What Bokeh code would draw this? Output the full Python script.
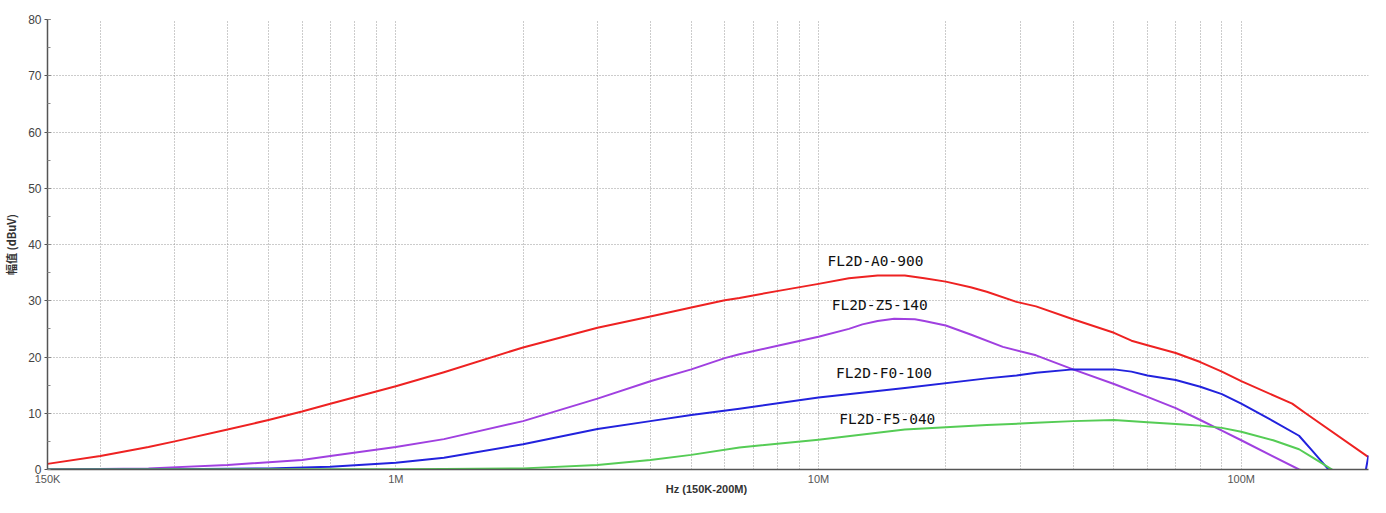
import json
from bokeh.plotting import figure
from bokeh.models import FixedTicker, SingleIntervalTicker, CustomJSTickFormatter, Range1d, ColumnDataSource
from bokeh.core.properties import value
from bokeh.embed import file_html
from bokeh.resources import INLINE

# ---- data ----
red_f = [150e3, 200e3, 260e3, 300e3, 400e3, 500e3, 600e3, 700e3, 1e6, 1.3e6, 2e6, 3e6, 4e6, 5e6, 6e6, 6.5e6,
         8.1e6, 10e6, 11.8e6, 13.8e6, 16e6, 17.8e6, 20e6, 22.9e6, 25e6, 29.4e6, 32.7e6, 40e6, 50e6, 55e6,
         60e6, 70e6, 80e6, 90e6, 100e6, 132e6, 142e6, 200e6]
red_v = [1.0, 2.4, 4.0, 5.0, 7.1, 8.8, 10.3, 11.7, 14.8, 17.3, 21.7, 25.2, 27.2, 28.8, 30.1, 30.5,
         31.8, 33.0, 34.0, 34.5, 34.5, 34.0, 33.4, 32.4, 31.6, 29.8, 29.0, 26.7, 24.3, 22.9,
         22.1, 20.7, 19.1, 17.4, 15.7, 11.7, 10.0, 2.2]

purple_f = [150e3, 260e3, 400e3, 600e3, 700e3, 1e6, 1.3e6, 2e6, 3e6, 4e6, 5e6, 6e6, 6.5e6, 8.1e6, 10e6,
            11.8e6, 12.7e6, 13.8e6, 15.1e6, 16.9e6, 17.8e6, 20e6, 22.9e6, 27.3e6, 32.7e6, 40e6, 50e6,
            60e6, 70e6, 80e6, 90e6, 100e6, 137e6, 150e6]
purple_v = [0.0, 0.2, 0.8, 1.7, 2.4, 4.0, 5.4, 8.6, 12.6, 15.7, 17.8, 19.8, 20.5, 22.1, 23.6,
            25.0, 25.8, 26.4, 26.8, 26.7, 26.4, 25.6, 24.0, 21.8, 20.3, 17.8, 15.2,
            12.9, 10.9, 8.8, 6.9, 5.2, 0.0, -1.0]

blue_f = [150e3, 300e3, 500e3, 700e3, 1e6, 1.3e6, 2e6, 3e6, 4e6, 5e6, 6.5e6, 10e6, 16e6, 25e6, 29.4e6,
          32.7e6, 40e6, 50e6, 55e6, 60e6, 70e6, 80e6, 90e6, 100e6, 119e6, 137e6, 147e6, 160e6, 170e6,
          195e6, 200e6]
blue_v = [0.0, 0.05, 0.2, 0.5, 1.2, 2.1, 4.5, 7.2, 8.6, 9.7, 10.8, 12.8, 14.5, 16.2, 16.7,
          17.2, 17.8, 17.8, 17.4, 16.7, 15.9, 14.7, 13.4, 11.7, 8.6, 6.0, 3.4, 0.2, -2.0,
          -2.0, 2.5]

green_f = [150e3, 1e6, 1.3e6, 2e6, 3e6, 4e6, 5e6, 6.5e6, 10e6, 16e6, 25e6, 32.7e6, 40e6, 50e6, 60e6,
           70e6, 80e6, 90e6, 100e6, 119e6, 137e6, 147e6, 164e6, 170e6]
green_v = [0.0, 0.05, 0.1, 0.2, 0.8, 1.7, 2.6, 3.9, 5.3, 7.1, 7.9, 8.3, 8.6, 8.8, 8.4,
           8.1, 7.8, 7.4, 6.7, 5.2, 3.6, 2.2, 0.0, -1.0]

series_names = ["FL2D-A0-900", "FL2D-Z5-140", "FL2D-F0-100", "FL2D-F5-040"]
label_f = [10.5e6, 10.75e6, 11.0e6, 11.2e6]
label_v = [37.1, 29.3, 17.2, 9.0]

x_tick_values = [150e3, 1e6, 10e6, 100e6]
x_tick_labels = ["150K", "1M", "10M", "100M"]
x_title = "Hz  (150K-200M)"
y_title = "幅值 (dBuV)"

colors = ["#ee2222", "#a040e0", "#2222dd", "#55cc55"]

# ---- figure ----
p = figure(width=1370, height=497, x_axis_type="log", output_backend="svg", toolbar_location=None,
           x_range=Range1d(150e3, 200e6), y_range=Range1d(0, 80),
           min_border_left=40, min_border_right=2, min_border_top=19, min_border_bottom=24)
p.outline_line_color = None
p.background_fill_color = "white"
p.border_fill_color = "white"

# grid
grid_ticks = [k * 10 ** e for e in range(5, 9) for k in range(1, 10) if 150e3 <= k * 10 ** e <= 200e6]
p.xgrid.ticker = FixedTicker(ticks=grid_ticks)
p.ygrid.ticker = SingleIntervalTicker(interval=10)
for g in (p.xgrid, p.ygrid):
    g.grid_line_color = "#999999"
    g.grid_line_dash = "1 2"
    g.grid_line_width = 1

# x axis
xa = p.xaxis[0]
xa.ticker = FixedTicker(ticks=x_tick_values)
mapping = json.dumps({str(int(v)): l for v, l in zip(x_tick_values, x_tick_labels)})
xa.formatter = CustomJSTickFormatter(code="const m = %s; return m[String(Math.round(tick))] || '';" % mapping)
xa.axis_label = x_title
xa.axis_label_text_font = "Liberation Sans"
xa.axis_label_text_font_style = "bold"
xa.axis_label_text_font_size = "11px"
xa.axis_label_text_color = "#333333"
xa.axis_label_standoff = -5
xa.major_label_text_font = "Liberation Sans"
xa.major_label_text_font_size = "11px"
xa.major_label_text_color = "#555555"
xa.major_label_standoff = 3
xa.major_tick_out = 0
xa.major_tick_in = 0
xa.minor_tick_out = 0
xa.minor_tick_in = 0
xa.axis_line_color = "#555555"
xa.axis_line_width = 1.5

# y axis
ya = p.yaxis[0]
ya.ticker = SingleIntervalTicker(interval=10, num_minor_ticks=2)
ya.axis_label = y_title
ya.axis_label_text_font = "Noto Sans CJK SC"
ya.axis_label_text_font_style = "bold"
ya.axis_label_text_font_size = "11px"
ya.axis_label_text_color = "#333333"
ya.axis_label_standoff = 6
ya.major_label_text_font = "Liberation Sans"
ya.major_label_text_font_size = "12px"
ya.major_label_text_color = "#444444"
ya.major_label_standoff = 3
ya.major_tick_out = 3
ya.major_tick_in = 3
ya.minor_tick_out = 0
ya.minor_tick_in = 3
ya.major_tick_line_color = "#555555"
ya.minor_tick_line_color = "#888888"
ya.axis_line_color = "#555555"
ya.axis_line_width = 1.5

# lines
all_f = [red_f, purple_f, blue_f, green_f]
all_v = [red_v, purple_v, blue_v, green_v]
for f, v, c in zip(all_f, all_v, colors):
    p.line(f, v, line_color=c, line_width=2, line_join="round")

# labels
src = ColumnDataSource(dict(x=label_f, y=label_v, t=series_names))
p.text(x="x", y="y", text="t", source=src, text_font=value("DejaVu Sans Mono"),
       text_font_size="14.5px", text_color="#111111", text_align="left", text_baseline="middle")

open("out.html", "w").write(file_html(p, INLINE))
